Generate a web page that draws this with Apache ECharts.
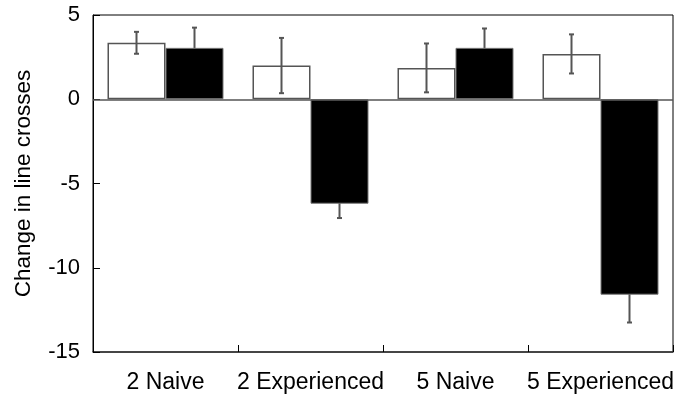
<!DOCTYPE html>
<html>
<head>
<meta charset="utf-8">
<script src="https://cdn.jsdelivr.net/npm/echarts@6/dist/echarts.min.js"></script>
<style>
  html, body { margin: 0; padding: 0; background: #fff; }
  #chart { width: 678px; height: 398px; }
</style>
</head>
<body>
<div id="chart"></div>
<script>
// Groups along the x axis
const categories = ['2 Naive', '2 Experienced', '5 Naive', '5 Experienced'];
// Mean change per group (open bars / filled bars)
const openValues = [3.35, 2.0, 1.86, 2.69];
const filledValues = [3.05, -6.2, 3.05, -11.6];
// Error half-widths
const openErrors = [0.65, 1.64, 1.45, 1.16];
const filledErrors = [1.2, 0.85, 1.15, 1.65];
// Value axis ticks
const yTicks = [-15, -10, -5, 0, 5];

const BAR_W = 58;
const FONT = '"Liberation Sans", Arial, sans-serif';

// Rows for the error-bar series: [category index, mean, error, side(-1 open, +1 filled)]
const errorRows = [];
categories.forEach((c, i) => {
  errorRows.push([i, openValues[i], openErrors[i], -1]);
  errorRows.push([i, filledValues[i], filledErrors[i], 1]);
});

const chart = echarts.init(document.getElementById('chart'), null, { renderer: 'canvas' });

chart.setOption({
  animation: false,
  backgroundColor: '#fff',
  grid: {
    left: 93, right: 5, top: 15, bottom: 46,
    show: true, borderColor: '#000', borderWidth: 1, backgroundColor: 'transparent'
  },
  xAxis: {
    type: 'category',
    data: categories,
    axisLine: { show: true, onZero: false, lineStyle: { color: '#333', width: 1.5 } },
    axisTick: { show: true, inside: true, length: 7, lineStyle: { color: '#000' } },
    axisLabel: { color: '#000', fontSize: 23, fontFamily: FONT, margin: 19, interval: 0, hideOverlap: false },
    splitLine: { show: false }
  },
  yAxis: {
    type: 'value',
    min: yTicks[0], max: yTicks[yTicks.length - 1], interval: 5,
    name: 'Change in line crosses',
    nameLocation: 'middle',
    nameGap: 58,
    nameTextStyle: { color: '#000', fontSize: 22.5, fontFamily: FONT },
    axisLine: { show: true, lineStyle: { color: '#000', width: 1 } },
    axisTick: { show: true, inside: true, length: 7, lineStyle: { color: '#000' } },
    axisLabel: { color: '#000', fontSize: 22, fontFamily: FONT, margin: 13 },
    splitLine: { show: false }
  },
  series: [
    {
      name: 'open',
      type: 'bar',
      data: openValues,
      barWidth: BAR_W,
      barGap: '0%',
      z: 1,
      itemStyle: { color: '#fff', borderColor: '#555', borderWidth: 1.5 },
      markLine: {
        silent: true, symbol: 'none', label: { show: false },
        lineStyle: { color: '#555', width: 1.5, type: 'solid' },
        data: [{ yAxis: 0 }]
      }
    },
    {
      name: 'filled',
      type: 'bar',
      data: filledValues,
      barWidth: BAR_W,
      barGap: '0%',
      z: 3,
      itemStyle: { color: '#000', borderColor: '#777', borderWidth: 1 }
    },
    {
      name: 'errors',
      type: 'custom',
      z: 2,
      data: errorRows,
      encode: { x: 0, y: 1 },
      renderItem: function (params, api) {
        const idx = api.value(0);
        const mean = api.value(1);
        const err = api.value(2);
        const side = api.value(3);
        const hi = api.coord([idx, mean + err]);
        const lo = api.coord([idx, mean - err]);
        const x = hi[0] + side * BAR_W / 2;
        const cap = 2.5;
        const style = { stroke: '#555', lineWidth: 2 };
        return {
          type: 'group',
          children: [
            { type: 'line', shape: { x1: x, y1: hi[1], x2: x, y2: lo[1] }, style: style },
            { type: 'line', shape: { x1: x - cap, y1: hi[1], x2: x + cap, y2: hi[1] }, style: style },
            { type: 'line', shape: { x1: x - cap, y1: lo[1], x2: x + cap, y2: lo[1] }, style: style }
          ]
        };
      }
    }
  ]
});
</script>
</body>
</html>
